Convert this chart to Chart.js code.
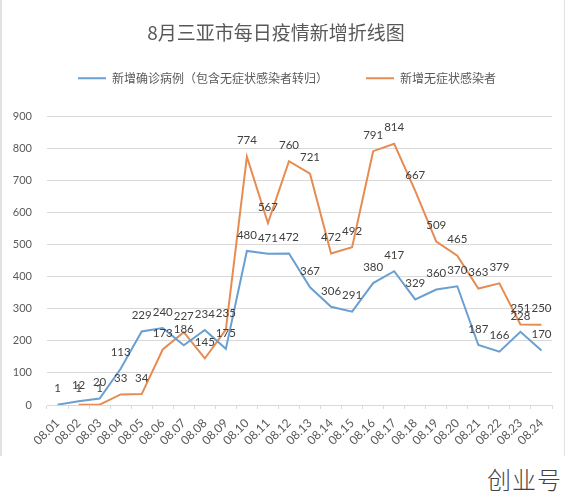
<!DOCTYPE html>
<html>
<head>
<meta charset="utf-8">
<script src="https://cdn.jsdelivr.net/npm/chart.js@4.4.1/dist/chart.umd.min.js"></script>
<style>
  html, body { margin: 0; padding: 0; background: #ffffff; }
  #wrap { position: absolute; left: 0; top: 0; width: 565px; height: 460px; }
  #frame { position: absolute; left: 0; top: 0; width: 562px; height: 456px; border-left: 2px solid #e2e2e2; border-right: 1px solid #e2e2e2; pointer-events: none; }
  #mark { position: absolute; left: 487px; top: 467px; font-family: "Noto Sans CJK SC", sans-serif; font-weight: 300; font-size: 24px; line-height: 1; color: #444444; letter-spacing: 1px; }
</style>
</head>
<body>
<div id="wrap"><canvas id="c"></canvas></div>
<div id="frame"></div>
<div id="mark">创业号</div>
<script>
const categories = ['08.01','08.02','08.03','08.04','08.05','08.06','08.07','08.08','08.09','08.10','08.11','08.12',
                    '08.13','08.14','08.15','08.16','08.17','08.18','08.19','08.20','08.21','08.22','08.23','08.24'];
const confirmedCases = [1,12,20,113,229,240,186,234,175,480,471,472,367,306,291,380,417,329,360,370,187,166,228,170];
const asymptomaticCases = [null,1,1,33,34,173,227,145,235,774,567,760,721,472,492,791,814,667,509,465,363,379,251,250];
const yTicks = [0,100,200,300,400,500,600,700,800,900];
const seriesNames = ['新增确诊病例（包含无症状感染者转归）', '新增无症状感染者'];
const titleText = '8月三亚市每日疫情新增折线图';

const labelPlugin = {
  id: 'pointLabels',
  afterLayout(chart) {
    // nudge the legend block to the right, as in the reference
    if (chart.legend) { chart.legend.left += 22; }
  },
  afterDatasetsDraw(chart) {
    const ctx = chart.ctx;
    ctx.save();
    ctx.font = '11.5px Lato, "Open Sans", sans-serif';
    ctx.fillStyle = '#404040';
    ctx.textAlign = 'center';
    ctx.textBaseline = 'middle';
    chart.data.datasets.forEach((ds, di) => {
      const meta = chart.getDatasetMeta(di);
      meta.data.forEach((el, i) => {
        const v = ds.data[i];
        if (v === null || v === undefined) return;
        ctx.fillText(String(v), el.x, el.y - 16);
      });
    });
    ctx.restore();
  }
};

new Chart(document.getElementById('c'), {
  type: 'line',
  data: {
    labels: categories,
    datasets: [
      { label: seriesNames[0], data: confirmedCases, borderColor: '#6a9fd2', backgroundColor: '#6a9fd2',
        borderWidth: 2, pointRadius: 0, tension: 0, fill: false },
      { label: seriesNames[1], data: asymptomaticCases, borderColor: '#e68c52', backgroundColor: '#e68c52',
        borderWidth: 2, pointRadius: 0, tension: 0, fill: false }
    ]
  },
  options: {
    responsive: true,
    maintainAspectRatio: false,
    animation: false,
    events: [],
    layout: { padding: { left: 0, right: 13, top: 0, bottom: 0 } },
    plugins: {
      title: {
        display: true, text: titleText, color: '#595959',
        font: { family: '"Noto Sans CJK SC", sans-serif', size: 19, weight: 'normal', lineHeight: 1.2 },
        padding: { top: 21, bottom: -9.6 }
      },
      legend: {
        display: true, position: 'top', weight: 1800,
        labels: {
          usePointStyle: true, pointStyle: 'line', pointStyleWidth: 28,
          color: '#595959', padding: 38,
          font: { family: '"Noto Sans CJK SC", sans-serif', size: 12 }
        }
      },
      subtitle: {
        display: true, text: '', weight: 1500,
        font: { size: 10, lineHeight: 1 },
        padding: { top: 0, bottom: 12 }
      },
      tooltip: { enabled: false }
    },
    scales: {
      x: {
        type: 'category',
        offset: true,
        grid: { display: true, offset: true, drawOnChartArea: false, drawTicks: true, tickLength: 4, color: '#d9d9d9' },
        border: { display: true, color: '#d9d9d9', width: 1 },
        ticks: { color: '#595959', font: { family: 'Lato, sans-serif', size: 12 }, maxRotation: 45, minRotation: 45, padding: 7, autoSkip: false },
        afterFit(scale) { scale.height = 55; }
      },
      y: {
        min: 0, max: 900,
        afterBuildTicks(scale) { scale.ticks = yTicks.map(v => ({ value: v })); },
        grid: { color: '#d9d9d9', lineWidth: 1, drawTicks: false },
        border: { display: false },
        ticks: { color: '#595959', font: { family: 'Lato, sans-serif', size: 11 }, padding: 15 },
        afterFit(scale) { scale.width = 47; }
      }
    }
  },
  plugins: [labelPlugin]
});
</script>
</body>
</html>
